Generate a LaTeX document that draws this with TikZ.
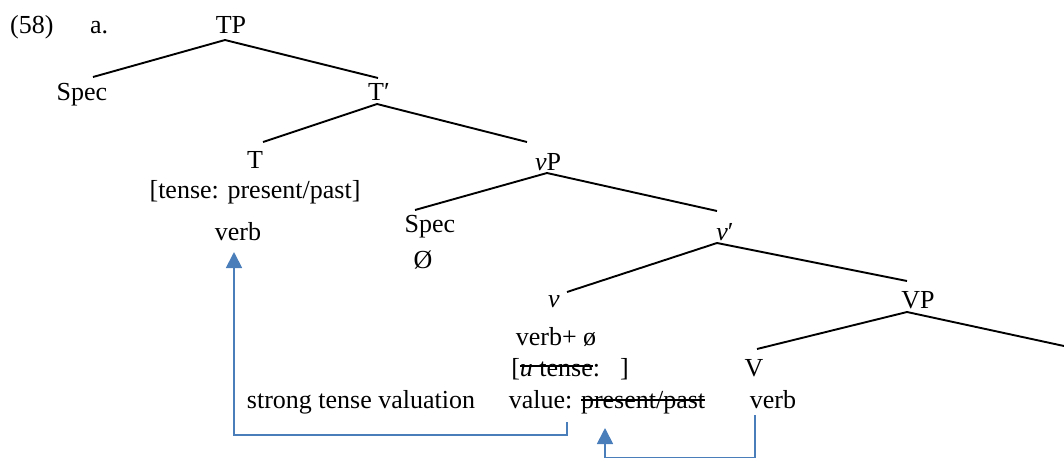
\documentclass[tikz,border=0pt]{standalone}
\usepackage{fontspec}
\setmainfont{Liberation Serif}
\usetikzlibrary{arrows.meta}
\definecolor{arrowblue}{RGB}{74,126,187}
\newlength\strkw
\newcommand\strk[2]{\settowidth{\strkw}{#2}\rlap{#2}\rule[#1]{\strkw}{1.6pt}}
\begin{document}
\begin{tikzpicture}[x=1pt,y=-1pt,
  lbl/.style={anchor=base,inner sep=0pt,font=\fontsize{26}{30}\selectfont},
  lblw/.style={anchor=base west,inner sep=0pt,font=\fontsize{26}{30}\selectfont},
  branch/.style={line width=1.9pt,black},
  mover/.style={line width=1.8pt,arrowblue},
  movetip/.style={-{Triangle[width=16pt,length=16pt]}}]
\useasboundingbox (0,0) rectangle (1064,458);
% labels
\node[lblw] (ex) at (10,33) {(58)};
\node[lblw] (exa) at (90,33) {a.};
\node[lbl] (TP) at (231,33) {TP};
\node[lbl] (Spec1) at (82,100) {Spec};
\node[lbl] (Tbar) at (379,100) {T′};
\node[lbl] (T) at (255,168) {T};
\node[lbl] (Tfeat) at (255,198) {[tense: present/past]};
\node[lbl] (Tverb) at (238,240) {verb};
\node[lbl] (vP) at (548,170) {\textit{v}P};
\node[lbl] (Spec2) at (430,232) {Spec};
\node[lbl] (Oslash) at (423,268) {Ø};
\node[lbl] (vbar) at (725,240) {\textit{v}′};
\node[lbl] (v) at (554,307) {\textit{v}};
\node[lbl] (VP) at (918,308) {VP};
\node[lbl] (vverb) at (556,345) {verb+ ø};
\node[lbl] (vfeat) at (570,376) {[\strk{0.35em}{\textit{u} tense}:\hspace{20pt}]};
\node[lbl] (vval) at (607,408) {value: \strk{0.27em}{present/past}};
\node[lbl] (stv) at (361,408) {strong tense valuation};
\node[lbl] (V) at (754,376) {V};
\node[lbl] (Vverb) at (773,408) {verb};
% branch end points
\coordinate (TP-b) at (225,40);
\coordinate (Spec1-t) at (93,77);
\coordinate (Tbar-t) at (378,78);
\coordinate (Tbar-b) at (377,104);
\coordinate (T-t) at (263,142);
\coordinate (vP-t) at (527,142);
\coordinate (vP-b) at (547,173);
\coordinate (Spec2-t) at (415,210);
\coordinate (vbar-t) at (717,211);
\coordinate (vbar-b) at (717,243);
\coordinate (v-t) at (567,292);
\coordinate (VP-t) at (907,281);
\coordinate (VP-b) at (907,312);
\coordinate (V-t) at (757,349);
\coordinate (VPcomp-t) at (1064,346);
% branches
\draw[branch] (TP-b) -- (Spec1-t);
\draw[branch] (TP-b) -- (Tbar-t);
\draw[branch] (Tbar-b) -- (T-t);
\draw[branch] (Tbar-b) -- (vP-t);
\draw[branch] (vP-b) -- (Spec2-t);
\draw[branch] (vP-b) -- (vbar-t);
\draw[branch] (vbar-b) -- (v-t);
\draw[branch] (vbar-b) -- (VP-t);
\draw[branch] (VP-b) -- (V-t);
\draw[branch] (VP-b) -- (VPcomp-t);
% movement arrows
\coordinate (valfoot) at (567,422);
\coordinate (Tverbfoot) at (234,252);
\draw[mover,movetip] (valfoot) -- (567,435) -- (Tverbfoot |- 0,435) -- (Tverbfoot);
\coordinate (Vfoot) at (755,415);
\coordinate (valtarget) at (605,428);
\draw[mover,movetip] (Vfoot) -- (755,457.5) -- (valtarget |- 0,457.5) -- (valtarget);
\end{tikzpicture}
\end{document}
